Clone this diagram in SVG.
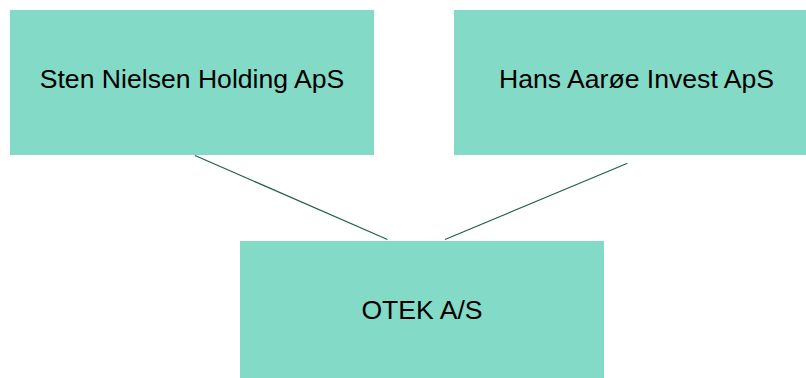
<svg xmlns="http://www.w3.org/2000/svg" width="806" height="378" viewBox="0 0 806 378">
<style>
.box{fill:#83dac6;}
.lbl{font-family:"Liberation Sans",Arial,sans-serif;font-size:26.6px;fill:#000;text-anchor:middle;}
.conn{stroke:#22604f;stroke-width:1.2;fill:none;}
</style>
<rect width="806" height="378" fill="#ffffff"/>
<g id="connectors">
<line class="conn" x1="195" y1="155.5" x2="387.5" y2="239.5"/>
<line class="conn" x1="627.5" y1="163.3" x2="445" y2="239.5"/>
</g>
<g id="sten">
<rect class="box" x="10" y="10" width="364" height="145"/>
<text class="lbl" x="192" y="88.3">Sten Nielsen Holding ApS</text>
</g>
<g id="hans">
<rect class="box" x="454" y="10" width="364" height="145"/>
<text class="lbl" x="636.5" y="88.3">Hans Aarøe Invest ApS</text>
</g>
<g id="otek">
<rect class="box" x="240" y="241" width="364" height="145"/>
<text class="lbl" x="422" y="319">OTEK A/S</text>
</g>
</svg>
